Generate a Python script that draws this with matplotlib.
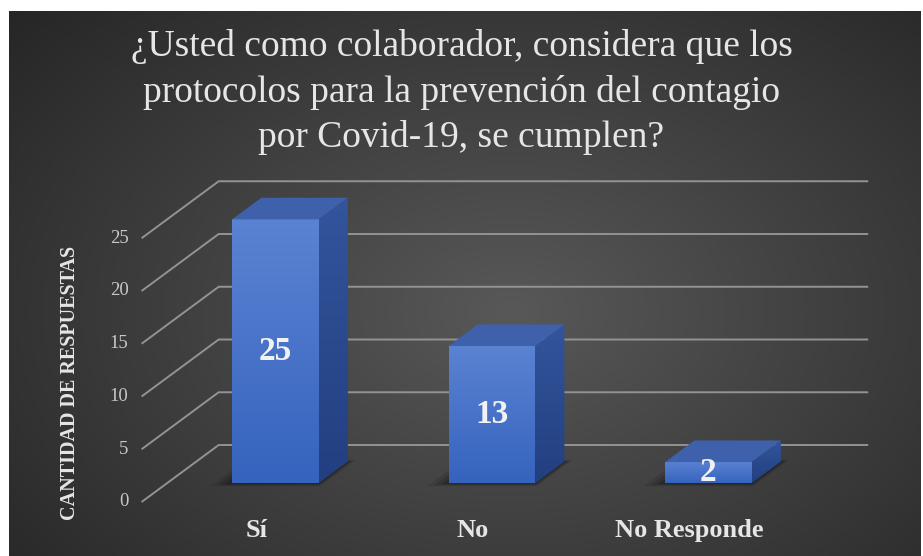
import numpy as np
import matplotlib.pyplot as plt
from matplotlib.patches import Polygon
from matplotlib.colors import LinearSegmentedColormap

# chart data
categories = ['Sí', 'No', 'No Responde']
values = [25, 13, 2]
y_ticks = [0, 5, 10, 15, 20, 25]
title = ('¿Usted como colaborador, considera que los\n'
         'protocolos para la prevención del contagio\n'
         'por Covid-19, se cumplen?')
y_label = 'CANTIDAD DE RESPUESTAS'

# oblique "3D" projection: depth 0..1 shifts a point by (DX, DY) data units
DX, DY = 0.356, 5.4
BAR_W = 0.40
D0, D1 = 0.33, 0.71   # front / back depth of the bars

SERIF = 'Liberation Serif'
TEXT_C = '#e6e6e6'


def proj(x, y, d):
    return (x + d * DX, y + d * DY)


def grad_face(ax, verts, c_bottom, c_top, z):
    poly = Polygon(verts, closed=True, facecolor='none', edgecolor='none', zorder=z)
    ax.add_patch(poly)
    xs = [v[0] for v in verts]
    ys = [v[1] for v in verts]
    cmap = LinearSegmentedColormap.from_list('f', [c_bottom, c_top])
    im = ax.imshow(np.linspace(0, 1, 256).reshape(-1, 1), cmap=cmap, origin='lower',
                   extent=(min(xs), max(xs), min(ys), max(ys)), aspect='auto',
                   zorder=z, interpolation='bilinear')
    im.set_clip_path(poly)


fig = plt.figure(figsize=(9.23, 5.56), dpi=100, facecolor='white')

# radial gradient background
bg = fig.add_axes([9 / 923, 0, 912 / 923, 545 / 556])
gx, gy = np.meshgrid(np.linspace(0, 1, 400), np.linspace(0, 1, 300))
r = np.sqrt(((gx - 0.55) / 0.75) ** 2 + ((gy - 0.45) / 0.85) ** 2)
r = np.clip(r, 0, 1)
bg_cmap = LinearSegmentedColormap.from_list('bg', ['#585858', '#262626'])
bg.imshow(r, cmap=bg_cmap, aspect='auto', origin='lower', extent=(0, 1, 0, 1))
bg.axis('off')

ax = fig.add_axes([0, 0, 1, 1])
ax.patch.set_alpha(0)
ax.axis('off')

n = len(categories)
xl, xr = -0.5, n - 0.5

# gridlines: diagonal on the floor side, then flat along the back wall
for v in y_ticks:
    p0 = proj(xl, v, 0)
    p1 = proj(xl, v, 1)
    p2 = proj(xr, v, 1)
    ax.plot([p0[0], p1[0], p2[0]], [p0[1], p1[1], p2[1]], color='#939393',
            lw=1.4, zorder=1, solid_capstyle='butt')
    ax.text(xl - 0.06, v, str(v), ha='right', va='center', fontsize=13.5,
            family=SERIF, color='#c8c8c8')

for i, (cat, val) in enumerate(zip(categories, values)):
    x0, x1 = i - BAR_W / 2, i + BAR_W / 2
    # soft shadow on the floor
    for k, a in enumerate([0.10, 0.14, 0.18]):
        g = 0.09 - k * 0.03
        sh = [proj(x0 - g * 0.9, 0, D0 - g * 0.6), proj(x1 + g * 0.3, 0, D0 - g * 0.6),
              proj(x1 + g * 0.3, 0, D1 + g * 0.3), proj(x0 - g * 0.9, 0, D1 + g * 0.3)]
        ax.add_patch(Polygon(sh, closed=True, facecolor='black', edgecolor='none',
                             alpha=a, zorder=2))
    front = [proj(x0, 0, D0), proj(x1, 0, D0), proj(x1, val, D0), proj(x0, val, D0)]
    side = [proj(x1, 0, D0), proj(x1, 0, D1), proj(x1, val, D1), proj(x1, val, D0)]
    top = [proj(x0, val, D0), proj(x1, val, D0), proj(x1, val, D1), proj(x0, val, D1)]
    grad_face(ax, front, '#3563bd', '#5b83d3', 3)
    grad_face(ax, side, '#223f80', '#33559c', 3)
    ax.add_patch(Polygon(top, closed=True, facecolor='#3f60aa', edgecolor='none', zorder=3))
    lx, ly = proj(i, val / 2, D0)
    ax.text(lx, ly, str(val), ha='center', va='center', fontsize=24, fontweight='bold',
            family=SERIF, color='#f2f2f2', zorder=4)
    ax.text(i + 0.03, -2.75, cat, ha='center', va='center', fontsize=19,
            fontweight='bold', family=SERIF, color=TEXT_C, zorder=4)

ax.text(-0.83, 11.3, y_label, rotation=90, ha='center', va='center', fontsize=14.5,
        fontweight='bold', family=SERIF, color=TEXT_C)

fig.text(0.5, 1 - 92 / 556, title, ha='center', va='center', fontsize=27,
         family=SERIF, color=TEXT_C, linespacing=1.38)

# data -> pixel mapping chosen so the plot sits where it does in the figure
ax.set_xlim(-1.154, 3.109)
ax.set_ylim(-5.12, 47.58)

fig.savefig('out.png', dpi=100, facecolor='white')
